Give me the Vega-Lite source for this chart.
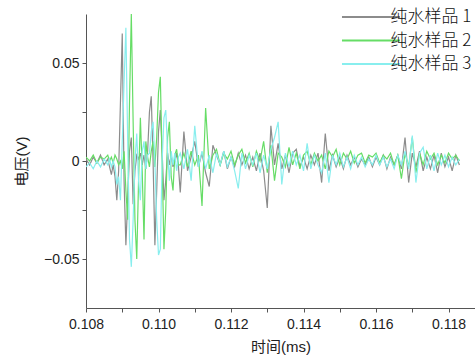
{
  "$schema": "https://vega.github.io/schema/vega-lite/v6.json",
  "width": 389,
  "height": 294,
  "autosize": {"type": "none"},
  "padding": {"left": 86, "top": 14, "right": 0, "bottom": 52},
  "config": {
    "view": {"stroke": null},
    "font": "Liberation Sans, Noto Sans CJK SC",
    "axis": {"domainColor": "#555555", "tickColor": "#555555", "tickSize": 4, "labelFontSize": 14, "labelColor": "#222222", "titleFontSize": 15, "titleFontWeight": "normal", "titleColor": "#222222", "grid": false, "labelFont": "Liberation Sans", "titleFont": "Liberation Sans, Noto Sans CJK SC"}
  },
  "data": {"values": [
    {"t":0.1080,"a":0.001,"b":0.002,"c":-0.003},
    {"t":0.1081,"a":-0.002,"b":0.000,"c":-0.001},
    {"t":0.1082,"a":0.002,"b":0.003,"c":-0.004},
    {"t":0.1083,"a":-0.001,"b":-0.001,"c":0.000},
    {"t":0.1084,"a":0.003,"b":0.002,"c":-0.003},
    {"t":0.1085,"a":-0.002,"b":0.001,"c":0.001},
    {"t":0.10860,"a":0.001,"b":0.003,"c":-0.002},
    {"t":0.10865,"a":-0.003,"b":0.000,"c":0.001},
    {"t":0.10870,"a":-0.007,"b":0.002,"c":-0.003},
    {"t":0.10875,"a":-0.002,"b":-0.001,"c":0.000},
    {"t":0.10880,"a":-0.008,"b":0.003,"c":-0.003},
    {"t":0.10885,"a":-0.020,"b":0.001,"c":-0.012},
    {"t":0.10890,"a":-0.005,"b":-0.002,"c":-0.008},
    {"t":0.10895,"a":0.030,"b":0.000,"c":-0.020},
    {"t":0.10900,"a":0.065,"b":-0.004,"c":0.010},
    {"t":0.10905,"a":-0.010,"b":0.005,"c":0.040},
    {"t":0.10910,"a":-0.043,"b":-0.015,"c":0.068},
    {"t":0.10915,"a":-0.020,"b":-0.030,"c":0.010},
    {"t":0.10920,"a":0.005,"b":0.030,"c":-0.040},
    {"t":0.10925,"a":0.012,"b":0.075,"c":-0.054},
    {"t":0.10930,"a":-0.022,"b":0.020,"c":-0.030},
    {"t":0.10935,"a":-0.005,"b":-0.030,"c":0.000},
    {"t":0.10940,"a":0.003,"b":-0.050,"c":0.014},
    {"t":0.10945,"a":0.001,"b":-0.010,"c":-0.010},
    {"t":0.10950,"a":0.004,"b":0.022,"c":-0.020},
    {"t":0.10955,"a":-0.002,"b":-0.005,"c":0.005},
    {"t":0.10960,"a":0.003,"b":-0.040,"c":0.010},
    {"t":0.10965,"a":-0.004,"b":0.010,"c":-0.004},
    {"t":0.10970,"a":0.005,"b":0.002,"c":0.003},
    {"t":0.10975,"a":0.025,"b":-0.003,"c":0.004},
    {"t":0.10980,"a":0.033,"b":0.005,"c":0.015},
    {"t":0.10985,"a":0.000,"b":0.010,"c":0.020},
    {"t":0.10990,"a":-0.043,"b":-0.003,"c":0.000},
    {"t":0.10995,"a":-0.015,"b":0.012,"c":-0.030},
    {"t":0.11000,"a":0.015,"b":0.035,"c":-0.048},
    {"t":0.11005,"a":0.026,"b":0.043,"c":-0.045},
    {"t":0.11010,"a":0.005,"b":0.000,"c":0.000},
    {"t":0.11015,"a":-0.020,"b":-0.045,"c":0.022},
    {"t":0.11020,"a":-0.010,"b":-0.025,"c":0.026},
    {"t":0.11025,"a":0.004,"b":0.012,"c":0.005},
    {"t":0.11030,"a":-0.002,"b":0.020,"c":-0.010},
    {"t":0.11035,"a":0.003,"b":-0.008,"c":0.005},
    {"t":0.11040,"a":-0.003,"b":-0.015,"c":-0.002},
    {"t":0.11045,"a":0.000,"b":0.003,"c":0.004},
    {"t":0.11050,"a":0.004,"b":0.006,"c":-0.005},
    {"t":0.11055,"a":-0.003,"b":-0.002,"c":0.002},
    {"t":0.1106,"a":-0.016,"b":-0.002,"c":0.004},
    {"t":0.1107,"a":0.015,"b":0.004,"c":-0.004},
    {"t":0.1108,"a":-0.005,"b":-0.003,"c":0.006},
    {"t":0.1109,"a":0.002,"b":0.005,"c":-0.010},
    {"t":0.1110,"a":0.010,"b":-0.002,"c":0.018},
    {"t":0.1111,"a":-0.003,"b":0.003,"c":-0.003},
    {"t":0.1112,"a":0.004,"b":-0.023,"c":0.005},
    {"t":0.1113,"a":-0.006,"b":0.027,"c":-0.004},
    {"t":0.1114,"a":-0.013,"b":-0.004,"c":0.003},
    {"t":0.1115,"a":0.008,"b":0.003,"c":-0.006},
    {"t":0.1116,"a":0.003,"b":0.006,"c":0.004},
    {"t":0.1117,"a":-0.002,"b":-0.002,"c":-0.002},
    {"t":0.1118,"a":0.005,"b":0.004,"c":0.005},
    {"t":0.1119,"a":-0.004,"b":0.001,"c":-0.003},
    {"t":0.1120,"a":0.002,"b":0.005,"c":0.002},
    {"t":0.1121,"a":-0.003,"b":-0.002,"c":-0.005},
    {"t":0.1122,"a":0.004,"b":0.003,"c":-0.014},
    {"t":0.1123,"a":-0.002,"b":0.006,"c":0.004},
    {"t":0.1124,"a":0.003,"b":-0.001,"c":-0.004},
    {"t":0.1125,"a":-0.004,"b":0.004,"c":0.003},
    {"t":0.1126,"a":0.002,"b":-0.003,"c":-0.002},
    {"t":0.1127,"a":-0.005,"b":0.005,"c":0.004},
    {"t":0.1128,"a":0.004,"b":0.000,"c":-0.006},
    {"t":0.1129,"a":-0.005,"b":0.010,"c":0.003},
    {"t":0.1130,"a":-0.024,"b":-0.006,"c":-0.004},
    {"t":0.1131,"a":0.018,"b":0.008,"c":0.006},
    {"t":0.1132,"a":-0.002,"b":-0.010,"c":0.012},
    {"t":0.1133,"a":0.009,"b":0.004,"c":0.020},
    {"t":0.1134,"a":-0.004,"b":0.002,"c":-0.012},
    {"t":0.1135,"a":0.003,"b":-0.003,"c":0.004},
    {"t":0.1136,"a":-0.006,"b":0.007,"c":-0.003},
    {"t":0.1137,"a":0.004,"b":-0.002,"c":0.005},
    {"t":0.1138,"a":0.006,"b":0.004,"c":-0.002},
    {"t":0.1139,"a":-0.003,"b":-0.004,"c":0.003},
    {"t":0.1140,"a":0.002,"b":0.003,"c":-0.005},
    {"t":0.1141,"a":-0.004,"b":0.005,"c":0.009},
    {"t":0.1142,"a":0.003,"b":-0.002,"c":-0.004},
    {"t":0.1143,"a":-0.002,"b":0.004,"c":0.003},
    {"t":0.1144,"a":0.004,"b":0.000,"c":-0.002},
    {"t":0.1145,"a":-0.011,"b":0.003,"c":-0.006},
    {"t":0.1146,"a":0.014,"b":-0.004,"c":0.004},
    {"t":0.1147,"a":-0.005,"b":0.005,"c":-0.011},
    {"t":0.1148,"a":0.003,"b":0.002,"c":0.003},
    {"t":0.1149,"a":-0.003,"b":0.006,"c":-0.002},
    {"t":0.1150,"a":0.002,"b":-0.002,"c":0.004},
    {"t":0.1151,"a":-0.004,"b":0.004,"c":-0.003},
    {"t":0.1152,"a":0.003,"b":0.001,"c":0.002},
    {"t":0.1153,"a":-0.002,"b":0.005,"c":-0.004},
    {"t":0.1154,"a":0.002,"b":-0.001,"c":0.003},
    {"t":0.1155,"a":-0.003,"b":0.003,"c":-0.002},
    {"t":0.1156,"a":0.001,"b":0.004,"c":0.002},
    {"t":0.1157,"a":-0.002,"b":-0.001,"c":-0.003},
    {"t":0.1158,"a":0.002,"b":0.003,"c":0.001},
    {"t":0.1159,"a":-0.003,"b":0.002,"c":-0.002},
    {"t":0.1160,"a":0.002,"b":0.004,"c":0.003},
    {"t":0.1161,"a":-0.002,"b":-0.001,"c":-0.002},
    {"t":0.1162,"a":0.003,"b":0.003,"c":0.002},
    {"t":0.1163,"a":-0.004,"b":0.001,"c":-0.003},
    {"t":0.1164,"a":0.002,"b":0.004,"c":0.001},
    {"t":0.1165,"a":-0.002,"b":-0.002,"c":-0.004},
    {"t":0.1166,"a":0.003,"b":0.003,"c":0.003},
    {"t":0.1167,"a":-0.004,"b":-0.009,"c":-0.002},
    {"t":0.1168,"a":0.012,"b":0.004,"c":0.005},
    {"t":0.1169,"a":-0.011,"b":-0.003,"c":-0.004},
    {"t":0.1170,"a":0.004,"b":0.012,"c":0.013},
    {"t":0.1171,"a":-0.003,"b":-0.006,"c":-0.011},
    {"t":0.1172,"a":0.005,"b":0.004,"c":0.004},
    {"t":0.1173,"a":-0.005,"b":-0.002,"c":0.007},
    {"t":0.1174,"a":0.002,"b":0.005,"c":-0.004},
    {"t":0.1175,"a":-0.004,"b":0.001,"c":0.003},
    {"t":0.1176,"a":0.003,"b":0.004,"c":-0.005},
    {"t":0.1177,"a":-0.006,"b":-0.002,"c":0.004},
    {"t":0.1178,"a":0.004,"b":0.003,"c":-0.002},
    {"t":0.1179,"a":-0.003,"b":-0.001,"c":0.003},
    {"t":0.1180,"a":0.002,"b":0.004,"c":-0.003},
    {"t":0.1181,"a":-0.005,"b":0.001,"c":0.002},
    {"t":0.1182,"a":0.003,"b":0.003,"c":-0.002},
    {"t":0.1183,"a":-0.002,"b":0.000,"c":0.001}
  ]},
  "transform": [{"fold": ["a", "b", "c"], "as": ["s", "v"]}],
  "mark": {"type": "line", "strokeWidth": 1.2, "clip": true},
  "encoding": {
    "x": {
      "field": "t", "type": "quantitative",
      "scale": {"domain": [0.108, 0.11873], "nice": false, "zero": false},
      "axis": {
        "values": [0.108, 0.109, 0.110, 0.111, 0.112, 0.113, 0.114, 0.115, 0.116, 0.117, 0.118],
        "labelExpr": "round(datum.value * 1000) % 2 == 1 ? '' : format(datum.value, '.3f')",
        "title": "时间(ms)", "labelPadding": 5, "titlePadding": 8, "labelFlush": false
      }
    },
    "y": {
      "field": "v", "type": "quantitative",
      "scale": {"domain": [-0.075, 0.075], "nice": false, "zero": false},
      "axis": {
        "values": [-0.05, -0.025, 0, 0.025, 0.05],
        "labelExpr": "datum.value == 0 ? '0' : (abs(datum.value) < 0.04 ? '' : format(datum.value, '.2f'))",
        "title": "电压(V)", "labelPadding": 3, "titlePadding": 14
      }
    },
    "color": {
      "field": "s", "type": "nominal",
      "scale": {"domain": ["a", "b", "c"], "range": ["#8c8c8c", "#66dd66", "#88eeee"]},
      "legend": {
        "title": null, "orient": "none", "legendX": 273, "legendY": -9,
        "symbolType": "M-2.7,0H2.7", "symbolSize": 462, "symbolStrokeWidth": 2,
        "rowPadding": 3.5,
        "labelFontSize": 17, "labelColor": "#111111", "labelFont": "Noto Sans CJK SC", "labelFontWeight": 300, "labelOffset": 7.5,
        "labelExpr": "datum.label == 'a' ? '纯水样品 1' : (datum.label == 'b' ? '纯水样品 2' : '纯水样品 3')"
      }
    }
  }
}
